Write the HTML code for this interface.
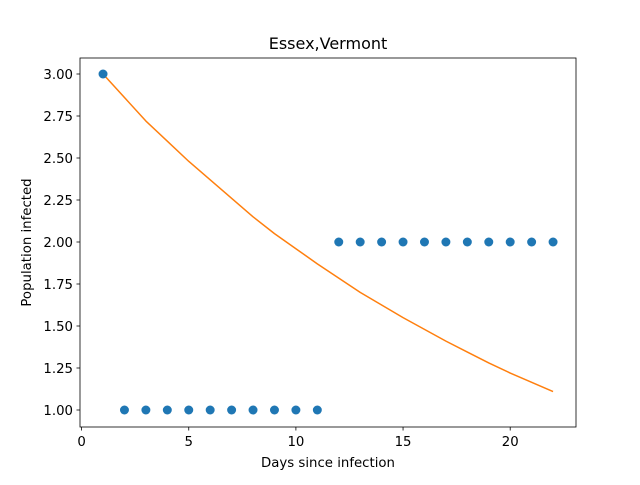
<!DOCTYPE html>
<html><head><meta charset="utf-8"><style>
body{margin:0;background:#fff;}
svg text{font-family:"DejaVu Sans","Liberation Sans",sans-serif;}
</style></head><body>
<svg id="chart" width="640" height="480" xmlns="http://www.w3.org/2000/svg"></svg>
<script>
const days = [1,2,3,4,5,6,7,8,9,10,11,12,13,14,15,16,17,18,19,20,21,22];
const observed = [3,1,1,1,1,1,1,1,1,1,1,2,2,2,2,2,2,2,2,2,2,2];
const fitted = [3.00,2.86,2.72,2.60,2.48,2.37,2.26,2.15,2.05,1.96,1.87,1.785,1.70,1.625,1.55,1.48,1.41,1.345,1.28,1.22,1.165,1.11];
const xTicks = [0,5,10,15,20];
const yTicks = [1.00,1.25,1.50,1.75,2.00,2.25,2.50,2.75,3.00];

const svg = document.getElementById('chart');
const NS = 'http://www.w3.org/2000/svg';
const L=80,R=576,T=58,B=427;
const xs = v => 81.6 + v*21.43;
const ys = v => 410 - (v-1)*168;
function mk(tag, attrs, parent){const e=document.createElementNS(NS,tag);for(const k in attrs)e.setAttribute(k,attrs[k]);(parent||svg).appendChild(e);return e;}

let d = fitted.map((v,i)=>(i?'L':'M')+xs(days[i]).toFixed(2)+' '+ys(v).toFixed(2)).join(' ');
const line = mk('path',{d:d,fill:'none',stroke:'#ff7f0e','stroke-width':1.5,'stroke-linejoin':'round'});



observed.forEach((v,i)=>{
  const c = mk('circle',{cx:xs(days[i]),cy:ys(v),r:4.5,fill:'#1f77b4'});
  
  
});

const frame = mk('rect',{x:L,y:T,width:R-L,height:B-T,fill:'none',stroke:'#000','stroke-width':0.8});



xTicks.forEach(t=>{
  const x=xs(t);
  mk('line',{x1:x,x2:x,y1:B,y2:B+3.5,stroke:'#000','stroke-width':0.8});
  const tx = mk('text',{x:x,y:B+19,'font-size':13.3,'text-anchor':'middle'});
  tx.textContent = t;
  
  
});
yTicks.forEach(t=>{
  const y=ys(t);
  mk('line',{x1:L-3.5,x2:L,y1:y,y2:y,stroke:'#000','stroke-width':0.8});
  const tx = mk('text',{x:L-7,y:y+5,'font-size':13.3,'text-anchor':'end'});
  tx.textContent = t.toFixed(2);
  
  
});

const title = mk('text',{x:(L+R)/2,y:49,'font-size':16,'text-anchor':'middle'});
title.textContent='Essex,Vermont';


const xl = mk('text',{x:(L+R)/2,y:467,'font-size':13.3,'text-anchor':'middle'});
xl.textContent='Days since infection';


const yl = mk('text',{x:0,y:0,'font-size':13.3,'text-anchor':'middle',transform:'translate(31,'+((T+B)/2)+') rotate(-90)'});
yl.textContent='Population infected';


</script>
</body></html>
